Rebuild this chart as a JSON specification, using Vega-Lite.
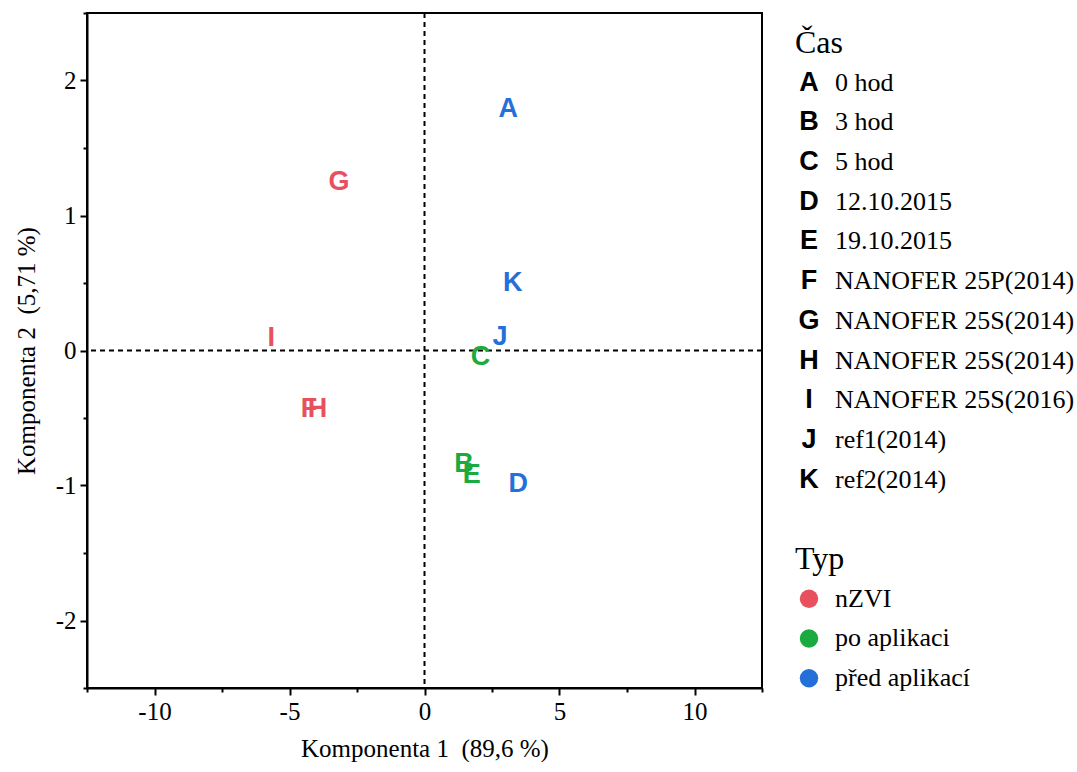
{
  "$schema": "https://vega.github.io/schema/vega-lite/v6.json",
  "background": "white",
  "padding": {"left": 13, "top": 11, "right": 0, "bottom": 0},
  "bounds": "flush",
  "spacing": 47,
  "datasets": {
    "pts": [
      {"pismeno": "A", "popis": "0 hod", "typ": "před aplikací", "x": 3.10, "y": 1.79},
      {"pismeno": "B", "popis": "3 hod", "typ": "po aplikaci", "x": 1.46, "y": -0.84},
      {"pismeno": "C", "popis": "5 hod", "typ": "po aplikaci", "x": 2.07, "y": -0.05},
      {"pismeno": "D", "popis": "12.10.2015", "typ": "před aplikací", "x": 3.47, "y": -0.99},
      {"pismeno": "E", "popis": "19.10.2015", "typ": "po aplikaci", "x": 1.75, "y": -0.92},
      {"pismeno": "F", "popis": "NANOFER 25P(2014)", "typ": "nZVI", "x": -4.28, "y": -0.43},
      {"pismeno": "G", "popis": "NANOFER 25S(2014)", "typ": "nZVI", "x": -3.17, "y": 1.25},
      {"pismeno": "H", "popis": "NANOFER 25S(2014)", "typ": "nZVI", "x": -3.96, "y": -0.43},
      {"pismeno": "I", "popis": "NANOFER 25S(2016)", "typ": "nZVI", "x": -5.68, "y": 0.09},
      {"pismeno": "J", "popis": "ref1(2014)", "typ": "před aplikací", "x": 2.80, "y": 0.10},
      {"pismeno": "K", "popis": "ref2(2014)", "typ": "před aplikací", "x": 3.27, "y": 0.50}
    ],
    "typy": [{"typ": "nZVI"}, {"typ": "po aplikaci"}, {"typ": "před aplikací"}],
    "nadpisy": [{"t": "Čas"}, {"t": "Typ"}]
  },
  "hconcat": [
    {
      "width": 675,
      "height": 675,
      "layer": [
        {
          "data": {"values": [{}]},
          "mark": {"type": "rule", "color": "black", "strokeWidth": 2, "strokeDash": [5, 4]},
          "encoding": {"x": {"datum": 0, "type": "quantitative"}}
        },
        {
          "data": {"values": [{}]},
          "mark": {"type": "rule", "color": "black", "strokeWidth": 2, "strokeDash": [5, 4]},
          "encoding": {"y": {"datum": 0, "type": "quantitative"}}
        },
        {
          "data": {"name": "pts"},
          "mark": {"type": "text", "font": "Liberation Sans", "fontWeight": "bold", "fontSize": 27, "align": "center", "baseline": "middle"},
          "encoding": {
            "x": {
              "field": "x", "type": "quantitative",
              "scale": {"domain": [-12.5, 12.5], "nice": false, "zero": false},
              "title": "Komponenta 1 \u00a0(89,6 %)",
              "axis": {
                "values": [-12.5, -10, -7.5, -5, -2.5, 0, 2.5, 5, 7.5, 10, 12.5],
                "labelExpr": "datum.value % 5 == 0 ? '' + datum.value : ''",
                "tickSize": {"condition": {"test": "datum.value % 5 == 0", "value": 7}, "value": 4},
                "grid": false, "domainColor": "black", "domainWidth": 2, "tickColor": "black", "tickWidth": 2,
                "labelFont": "Liberation Serif", "labelFontSize": 25, "labelColor": "black", "labelPadding": 4,
                "titleFont": "Liberation Serif", "titleFontSize": 25, "titleFontWeight": "normal", "titleColor": "black", "titlePadding": 12
              }
            },
            "y": {
              "field": "y", "type": "quantitative",
              "scale": {"domain": [-2.5, 2.5], "nice": false, "zero": false},
              "title": "Komponenta 2 \u00a0(5,71 %)",
              "axis": {
                "values": [-2.5, -2, -1.5, -1, -0.5, 0, 0.5, 1, 1.5, 2, 2.5],
                "labelExpr": "datum.value % 1 == 0 ? '' + datum.value : ''",
                "tickSize": {"condition": {"test": "datum.value % 1 == 0", "value": 7}, "value": 4},
                "grid": false, "domainColor": "black", "domainWidth": 2, "tickColor": "black", "tickWidth": 2,
                "labelFont": "Liberation Serif", "labelFontSize": 25, "labelColor": "black", "labelPadding": 4,
                "titleFont": "Liberation Serif", "titleFontSize": 25, "titleFontWeight": "normal", "titleColor": "black", "titlePadding": 16
              }
            },
            "text": {"field": "pismeno"},
            "color": {
              "field": "typ", "type": "nominal",
              "scale": {"domain": ["nZVI", "po aplikaci", "před aplikací"], "range": ["#E8505E", "#1AAB40", "#2470D8"]},
              "legend": null
            }
          }
        }
      ]
    },
    {
      "width": 26,
      "height": 675,
      "view": {"stroke": null},
      "resolve": {"scale": {"color": "independent"}},
      "layer": [
        {
          "data": {"name": "nadpisy"},
          "mark": {"type": "text", "font": "Liberation Serif", "fontSize": 32, "align": "left", "baseline": "middle", "dx": -14, "color": "black"},
          "encoding": {
            "y": {
              "field": "t", "type": "nominal",
              "scale": {"domain": ["Čas", "A", "B", "C", "D", "E", "F", "G", "H", "I", "J", "K", " ", "Typ", "nZVI", "po aplikaci", "před aplikací"], "paddingInner": 0, "paddingOuter": 0.1985, "align": 0.753},
              "axis": null
            },
            "x": {"datum": "sym", "type": "nominal", "scale": {"domain": ["sym", "lab"], "padding": 0}, "axis": null},
            "text": {"field": "t"}
          }
        },
        {
          "data": {"name": "pts"},
          "mark": {"type": "text", "font": "Liberation Sans", "fontWeight": "bold", "fontSize": 27, "align": "center", "baseline": "middle", "color": "black"},
          "encoding": {
            "y": {"field": "pismeno", "type": "nominal", "axis": null},
            "x": {"datum": "sym", "type": "nominal", "axis": null},
            "text": {"field": "pismeno"}
          }
        },
        {
          "data": {"name": "pts"},
          "mark": {"type": "text", "font": "Liberation Serif", "fontSize": 26, "align": "left", "baseline": "middle", "color": "black"},
          "encoding": {
            "y": {"field": "pismeno", "type": "nominal", "axis": null},
            "x": {"datum": "lab", "type": "nominal", "axis": null},
            "text": {"field": "popis"}
          }
        },
        {
          "data": {"name": "typy"},
          "mark": {"type": "point", "shape": "circle", "filled": true, "size": 340, "opacity": 1},
          "encoding": {
            "y": {"field": "typ", "type": "nominal", "axis": null},
            "x": {"datum": "sym", "type": "nominal", "axis": null},
            "color": {
              "field": "typ", "type": "nominal",
              "scale": {"domain": ["nZVI", "po aplikaci", "před aplikací"], "range": ["#E8505E", "#1AAB40", "#2470D8"]},
              "legend": null
            }
          }
        },
        {
          "data": {"name": "typy"},
          "mark": {"type": "text", "font": "Liberation Serif", "fontSize": 26, "align": "left", "baseline": "middle", "color": "black"},
          "encoding": {
            "y": {"field": "typ", "type": "nominal", "axis": null},
            "x": {"datum": "lab", "type": "nominal", "axis": null},
            "text": {"field": "typ"}
          }
        }
      ]
    }
  ],
  "config": {
    "font": "Liberation Serif",
    "view": {"stroke": "black", "strokeWidth": 2}
  }
}
